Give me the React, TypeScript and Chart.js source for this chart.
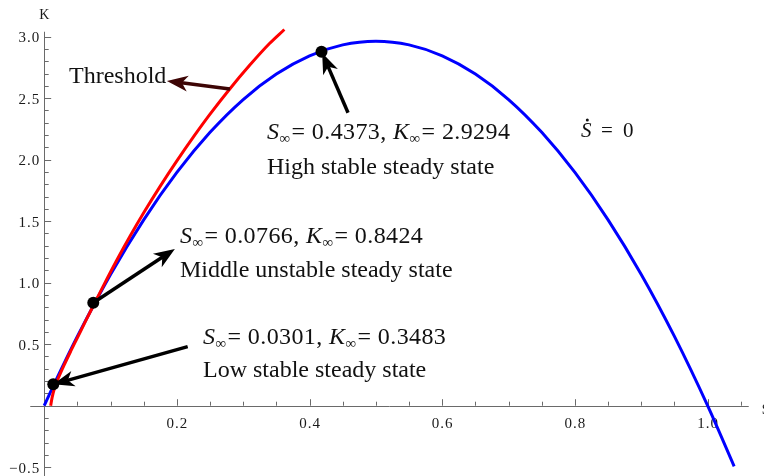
import React, { useEffect, useRef } from "react";
import { Chart, registerables } from "chart.js";

Chart.register(...registerables);

// Ṡ = 0 curve (blue)
const nullclineS = [0, 0.02, 0.05, 0.1, 0.15, 0.2, 0.25, 0.3, 0.35, 0.4, 0.45, 0.5, 0.55, 0.6, 0.65, 0.7, 0.75, 0.8, 0.85, 0.9, 0.95, 1.0, 1.04];
const nullclineK = [0, 0.232, 0.563, 1.067, 1.511, 1.896, 2.222, 2.489, 2.696, 2.844, 2.933, 2.963, 2.933, 2.844, 2.696, 2.489, 2.222, 1.896, 1.511, 1.067, 0.563, 0, -0.493];

// Threshold curve (red)
const thresholdS = [0.0098, 0.012, 0.016, 0.022, 0.03, 0.04, 0.05, 0.062, 0.075, 0.09, 0.11, 0.13, 0.15, 0.175, 0.2, 0.225, 0.25, 0.28, 0.31, 0.34, 0.362];
const thresholdK = [0, 0.068, 0.15, 0.233, 0.33, 0.443, 0.552, 0.683, 0.822, 0.982, 1.188, 1.383, 1.568, 1.785, 1.99, 2.185, 2.37, 2.577, 2.769, 2.946, 3.058];

// Steady states (black dots)
const steadyS = [0.0137, 0.074, 0.418];
const steadyK = [0.174, 0.837, 2.878];

// Axis ticks
const xMajorTicks = [0.2, 0.4, 0.6, 0.8, 1.0];
const xTickLabels = ["0.2", "0.4", "0.6", "0.8", "1.0"];
const xMinorTicks = [0.05, 0.1, 0.15, 0.25, 0.3, 0.35, 0.45, 0.5, 0.55, 0.65, 0.7, 0.75, 0.85, 0.9, 0.95, 1.05];
const yMajorTicks = [-0.5, 0.5, 1.0, 1.5, 2.0, 2.5, 3.0];
const yTickLabels = ["\u22120.5", "0.5", "1.0", "1.5", "2.0", "2.5", "3.0"];
const yMinorTicks = [-0.4, -0.3, -0.2, -0.1, 0.1, 0.2, 0.3, 0.4, 0.6, 0.7, 0.8, 0.9, 1.1, 1.2, 1.3, 1.4, 1.6, 1.7, 1.8, 1.9, 2.1, 2.2, 2.3, 2.4, 2.6, 2.7, 2.8, 2.9];

// Annotation texts
const stateValueS = ["0.0301", "0.0766", "0.4373"];
const stateValueK = ["0.3483", "0.8424", "2.9294"];
const stateNames = ["Low stable steady state", "Middle unstable steady state", "High stable steady state"];

const X_MIN = -0.0666;
const X_MAX = 1.085;
const Y_MIN = -0.5715;
const Y_MAX = 3.298;

const SERIF = "'Liberation Serif', 'Times New Roman', serif";

// label anchors in data coordinates: [left S, baseline K line1, baseline K line2]
const labelAnchors = [
  [0.2394, 0.505, 0.233],
  [0.2047, 1.322, 1.046],
  [0.3359, 2.168, 1.883],
];
// arrows in data coords: from (s0,k0) to (s1,k1)
const arrows = [
  { from: [0.2163, 0.48], to: [0.0137, 0.174], color: "#000000" },
  { from: [0.074, 0.837], to: [0.197, 1.274], color: "#000000" },
  { from: [0.458, 2.382], to: [0.419, 2.868], color: "#000000" },
  { from: [0.28, 2.575], to: [0.185, 2.64], color: "#3d0505" },
];

function drawArrow(ctx: CanvasRenderingContext2D, x0: number, y0: number, x1: number, y1: number, color: string) {
  const L = 21;
  const W = 8;
  const ang = Math.atan2(y1 - y0, x1 - x0);
  const c = Math.cos(ang);
  const s = Math.sin(ang);
  ctx.save();
  ctx.strokeStyle = color;
  ctx.fillStyle = color;
  ctx.lineWidth = 3.5;
  ctx.lineCap = "butt";
  ctx.beginPath();
  ctx.moveTo(x0, y0);
  ctx.lineTo(x1 - L * 0.7 * c, y1 - L * 0.7 * s);
  ctx.stroke();
  const bx = x1 - L * c;
  const by = y1 - L * s;
  ctx.beginPath();
  ctx.moveTo(x1, y1);
  ctx.lineTo(bx - W * s, by + W * c);
  ctx.lineTo(x1 - L * 0.72 * c, y1 - L * 0.72 * s);
  ctx.lineTo(bx + W * s, by - W * c);
  ctx.closePath();
  ctx.fill();
  ctx.restore();
}

function drawMathLine(ctx: CanvasRenderingContext2D, x: number, y: number, sVal: string, kVal: string, size: number) {
  const sub = Math.round(size * 0.64);
  const segs: { t: string; italic?: boolean; sub?: boolean }[] = [
    { t: "S", italic: true },
    { t: "\u221E", sub: true },
    { t: "= " + sVal + ", " },
    { t: "K", italic: true },
    { t: "\u221E", sub: true },
    { t: "= " + kVal },
  ];
  let cx = x;
  (ctx as any).letterSpacing = "0.4px";
  for (const sg of segs) {
    ctx.font = `${sg.italic ? "italic " : ""}${sg.sub ? sub : size}px ${SERIF}`;
    ctx.fillText(sg.t, cx, sg.sub ? y + 4 : y);
    cx += ctx.measureText(sg.t).width + (sg.sub ? 1 : 0);
  }
  (ctx as any).letterSpacing = "0px";
}

const overlayPlugin = {
  id: "overlay",
  beforeDatasetsDraw(chart: any) {
    const ctx: CanvasRenderingContext2D = chart.ctx;
    const xs = chart.scales.x;
    const ys = chart.scales.y;
    const ox = xs.getPixelForValue(0);
    const oy = ys.getPixelForValue(0);
    ctx.save();
    ctx.strokeStyle = "#6a6a6a";
    ctx.lineWidth = 1;
    // x axis
    ctx.beginPath();
    ctx.moveTo(xs.getPixelForValue(-0.021), Math.round(oy) + 0.5);
    ctx.lineTo(xs.getPixelForValue(1.062), Math.round(oy) + 0.5);
    // y axis
    ctx.moveTo(Math.round(ox) + 0.5, ys.getPixelForValue(3.04));
    ctx.lineTo(Math.round(ox) + 0.5, ys.getPixelForValue(Y_MIN));
    ctx.stroke();
    // ticks
    ctx.beginPath();
    for (const v of xMajorTicks) {
      const px = Math.round(xs.getPixelForValue(v)) + 0.5;
      ctx.moveTo(px, oy);
      ctx.lineTo(px, oy - 6.5);
    }
    for (const v of xMinorTicks) {
      const px = Math.round(xs.getPixelForValue(v)) + 0.5;
      ctx.moveTo(px, oy);
      ctx.lineTo(px, oy - 4);
    }
    for (const v of yMajorTicks) {
      const py = Math.round(ys.getPixelForValue(v)) + 0.5;
      ctx.moveTo(ox, py);
      ctx.lineTo(ox + 7, py);
    }
    for (const v of yMinorTicks) {
      const py = Math.round(ys.getPixelForValue(v)) + 0.5;
      ctx.moveTo(ox, py);
      ctx.lineTo(ox + 4.5, py);
    }
    ctx.stroke();
    // tick labels
    ctx.fillStyle = "#1a1a1a";
    ctx.font = `15px ${SERIF}`;
    (ctx as any).letterSpacing = "1px";
    ctx.textAlign = "center";
    ctx.textBaseline = "alphabetic";
    xMajorTicks.forEach((v, i) => {
      ctx.fillText(xTickLabels[i], xs.getPixelForValue(v) + 0.5, oy + 22);
    });
    ctx.textAlign = "right";
    yMajorTicks.forEach((v, i) => {
      ctx.fillText(yTickLabels[i], ox - 4, ys.getPixelForValue(v) + 5.5);
    });
    (ctx as any).letterSpacing = "0px";
    // axis labels
    ctx.font = `14px ${SERIF}`;
    ctx.textAlign = "center";
    ctx.fillText("K", ox, 18.5);
    ctx.textAlign = "left";
    ctx.fillText("S", xs.getPixelForValue(1.0815), oy + 8);
    ctx.restore();
  },
  afterDatasetsDraw(chart: any) {
    const ctx: CanvasRenderingContext2D = chart.ctx;
    const xs = chart.scales.x;
    const ys = chart.scales.y;
    const P = (s: number, k: number) => [xs.getPixelForValue(s), ys.getPixelForValue(k)];
    for (const a of arrows) {
      const [x0, y0] = P(a.from[0], a.from[1]);
      const [x1, y1] = P(a.to[0], a.to[1]);
      drawArrow(ctx, x0, y0, x1, y1, a.color);
    }
    ctx.save();
    ctx.fillStyle = "#111111";
    ctx.textAlign = "left";
    ctx.textBaseline = "alphabetic";
    const size = 24;
    labelAnchors.forEach((an, i) => {
      const [lx, ly1] = P(an[0], an[1]);
      const ly2 = ys.getPixelForValue(an[2]);
      drawMathLine(ctx, lx, ly1, stateValueS[i], stateValueK[i], size);
      ctx.font = `${size}px ${SERIF}`;
      ctx.fillText(stateNames[i], lx, ly2);
    });
    // Threshold label
    const [tx, ty] = P(0.0389, 2.623);
    ctx.font = `${size}px ${SERIF}`;
    ctx.fillText("Threshold", tx - 1, ty);
    // S-dot = 0 label
    const [sx, sy] = P(0.8092, 2.184);
    ctx.font = `italic 21px ${SERIF}`;
    ctx.fillText("S", sx, sy);
    const sw = ctx.measureText("S").width;
    ctx.beginPath();
    ctx.arc(sx + sw * 0.6, sy - 17, 1.5, 0, Math.PI * 2);
    ctx.fill();
    ctx.font = `21px ${SERIF}`;
    ctx.fillText("=", sx + 20, sy);
    ctx.fillText("0", sx + 42, sy);
    ctx.restore();
  },
};

export default function App() {
  const ref = useRef<HTMLCanvasElement>(null);
  useEffect(() => {
    if (!ref.current) return;
    const chart = new Chart(ref.current, {
      type: "line",
      data: {
        datasets: [
          {
            label: "Steady states",
            type: "scatter",
            data: steadyS.map((s, i) => ({ x: s, y: steadyK[i] })),
            pointRadius: 6,
            pointBackgroundColor: "#000000",
            pointBorderColor: "#000000",
            pointBorderWidth: 0,
            showLine: false,
            order: 0,
          } as any,
          {
            label: "Threshold",
            data: thresholdS.map((s, i) => ({ x: s, y: thresholdK[i] })),
            borderColor: "#ff0000",
            borderWidth: 3,
            pointRadius: 0,
            cubicInterpolationMode: "monotone",
            fill: false,
            order: 1,
          },
          {
            label: "S-dot = 0",
            data: nullclineS.map((s, i) => ({ x: s, y: nullclineK[i] })),
            borderColor: "#0000ff",
            borderWidth: 3,
            pointRadius: 0,
            cubicInterpolationMode: "monotone",
            fill: false,
            order: 2,
          },
        ],
      },
      options: {
        animation: false,
        responsive: false,
        devicePixelRatio: 1,
        layout: { padding: 0, autoPadding: false },
        plugins: { legend: { display: false }, tooltip: { enabled: false } },
        scales: {
          x: { type: "linear", min: X_MIN, max: X_MAX, display: false },
          y: { type: "linear", min: Y_MIN, max: Y_MAX, display: false },
        },
      },
      plugins: [overlayPlugin],
    });
    return () => chart.destroy();
  }, []);
  return (
    <div style={{ position: "absolute", left: 0, top: 0, width: 764, height: 476, background: "#ffffff" }}>
      <canvas ref={ref} width={764} height={476} style={{ display: "block" }} />
    </div>
  );
}
